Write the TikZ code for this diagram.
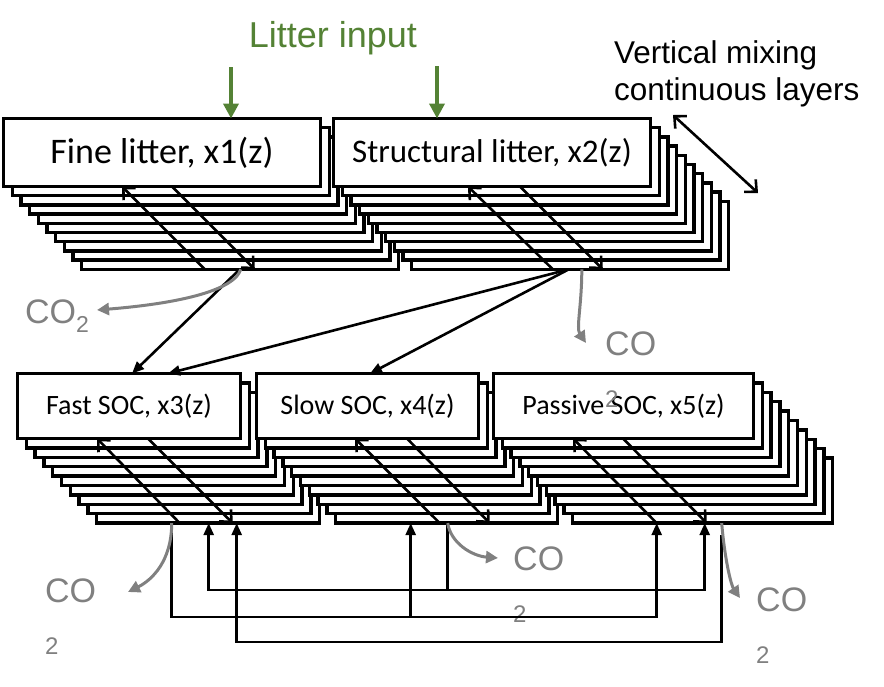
\documentclass[tikz,border=0pt]{standalone}
\usepackage{fontspec}
\setmainfont{Carlito}
\newfontfamily\arialfont{Liberation Sans}
\usetikzlibrary{arrows.meta, positioning, backgrounds, calc}
\definecolor{litgreen}{RGB}{84,130,53}

\begin{document}
\begin{tikzpicture}[
    x=1pt, y=-1pt,
    poolbox/.style={rectangle, draw=black, line width=3.3pt, fill=white, outer sep=0pt,
                    inner sep=0pt, minimum height=68pt, text centered},
    layer/.style={draw=black, line width=3.3pt, fill=white},
    mix/.style={-{Straight Barb[length=9pt,width=17pt]}, line width=2.6pt},
    flow/.style={-{Triangle[length=12pt,width=10pt]}, line width=2.6pt},
    resp/.style={-{Triangle[length=12pt,width=12pt]}, line width=3pt, draw=gray},
    colab/.style={font=\arialfont\fontsize{34}{52}\selectfont, text=gray, align=left,
                  inner sep=0pt, anchor=north west},
    inarr/.style={-{Triangle[length=15pt,width=15pt]}, line width=4pt, draw=litgreen}
]
\useasboundingbox (0,0) rectangle (884,686);

%% ===== LITTER POOLS (top row) =====
\node[poolbox, minimum width=317pt, font=\fontsize{36}{40}\selectfont] (fine) at (162,152.5) {Fine litter, x1(z)};
\node[poolbox, minimum width=317pt, font=\fontsize{33}{38}\selectfont, right=13pt of fine] (struc) {Structural litter, x2(z)};

%% ===== SOC POOLS (bottom row) =====
\node[poolbox, minimum width=223pt, minimum height=65pt, font=\fontsize{28}{32}\selectfont] (fast) at (129,406) {Fast SOC, x3(z)};
\node[poolbox, minimum width=222pt, minimum height=65pt, font=\fontsize{28}{32}\selectfont, right=16pt of fast] (slow) {Slow SOC, x4(z)};
\node[poolbox, minimum width=260pt, minimum height=65pt, font=\fontsize{28}{32}\selectfont, right=15pt of slow] (passive) {Passive SOC, x5(z)};

%% ===== STACKED LAYERS BEHIND EACH POOL =====
\begin{scope}[on background layer]
  \foreach \n/\dx/\dy in {fine/8.7/9.2, struc/8.7/9.2, fast/8.8/9.4, slow/8.8/9.4, passive/8.8/9.4} {
    \foreach \i in {9,...,1}
      \draw[layer] ($(\n.north west)+(\i*\dx,\i*\dy)$) rectangle ($(\n.south east)+(\i*\dx,\i*\dy)$);
    \coordinate (\n-back) at ($(\n.south west)+(9*\dx,9*\dy)$);
  }
\end{scope}

%% ===== LABELS =====
\node[font=\arialfont\fontsize{36}{40}\selectfont, text=litgreen, anchor=base] (litlab) at (333,47) {Litter input};
\node[font=\arialfont\fontsize{31.5}{37}\selectfont, align=left, anchor=north west, inner sep=0pt] (vmix) at (614,40) {Vertical mixing\\continuous layers};
\node[font=\arialfont\fontsize{34}{40}\selectfont, text=gray, anchor=base west, inner sep=0pt] (co-fine) at (25,323) {CO{\fontsize{23}{23}\selectfont\raisebox{-9pt}{2}}};
\node[colab] (co-struc)   at (605,332) {CO\\{\fontsize{24}{52}\selectfont 2}};
\node[colab] (co-fast)    at (45,579)  {CO\\{\fontsize{24}{52}\selectfont 2}};
\node[colab] (co-slow)    at (513,547) {CO\\{\fontsize{24}{52}\selectfont 2}};
\node[colab] (co-passive) at (756,588) {CO\\{\fontsize{24}{52}\selectfont 2}};

%% ===== LITTER INPUT =====
\coordinate (in-fine)  at (231,67);
\coordinate (in-struc) at (437,66);
\draw[inarr] (in-fine)  -- (in-fine |- fine.north);
\draw[inarr] (in-struc) -- (in-struc |- struc.north);

%% ===== VERTICAL MIXING =====
\coordinate (vm-top) at (673,115);
\coordinate (vm-bot) at (758,193);
\draw[mix, {Straight Barb[length=9pt,width=17pt]}-{Straight Barb[length=9pt,width=17pt]}] (vm-top) -- (vm-bot);

\draw[mix] ([xshift=123pt]fine-back)   -- ([xshift=118.5pt]fine.south west);
\draw[mix] ([xshift=168.5pt]fine.south west) -- ([xshift=173pt]fine-back);
\draw[mix] ([xshift=141pt]struc-back)  -- ([xshift=134.5pt]struc.south west);
\draw[mix] ([xshift=186.5pt]struc.south west) -- ([xshift=191pt]struc-back);
\draw[mix] ([xshift=83pt]fast-back)    -- ([xshift=79.5pt]fast.south west);
\draw[mix] ([xshift=130.5pt]fast.south west) -- ([xshift=136pt]fast-back);
\draw[mix] ([xshift=104pt]slow-back)   -- ([xshift=98.5pt]slow.south west);
\draw[mix] ([xshift=150.5pt]slow.south west) -- ([xshift=154pt]slow-back);
\draw[mix] ([xshift=84pt]passive-back) -- ([xshift=79.5pt]passive.south west);
\draw[mix] ([xshift=129.5pt]passive.south west) -- ([xshift=134pt]passive-back);

%% ===== LITTER TO SOC =====
\coordinate (fine-out)  at ([xshift=158pt]fine-back);
\coordinate (struc-out) at ([xshift=157pt]struc-back);
\draw[flow] (fine-out)  -- ([xshift=114.5pt]fast.north west);
\draw[flow] (struc-out) -- ([xshift=150.5pt]fast.north west);
\draw[flow] (struc-out) -- ([xshift=113.5pt]slow.north west);

%% ===== SOC EXCHANGES =====
\coordinate (fast-out)    at ([xshift=75pt]fast-back);
\coordinate (slow-out)    at ([xshift=112pt]slow-back);
\coordinate (passive-out) at ([xshift=149pt,yshift=-12pt]passive-back);
\coordinate (fast-in1)    at ([xshift=112pt]fast-back);
\coordinate (fast-in2)    at ([xshift=140pt]fast-back);
\coordinate (slow-in)     at ([xshift=75pt]slow-back);
\coordinate (passive-in1) at ([xshift=84pt]passive-back);
\coordinate (passive-in2) at ([xshift=132pt]passive-back);

\draw[flow] (fast-out) -- ++(0,94) coordinate (line-a) -| (passive-in1);
\draw[flow] (slow-in |- line-a) -- (slow-in);
\draw[flow] (slow-out) -- ++(0,67) coordinate (line-b) -| (fast-in1);
\draw[flow] (line-b) -| (passive-in2);
\draw[flow] (passive-out) -- ++(0,107) -| (fast-in2);

%% ===== RESPIRATION =====
\coordinate (co-fine-tip)    at (97,310);
\coordinate (co-struc-tip)   at (586,343);
\coordinate (co-fast-tip)    at (128,592);
\coordinate (co-slow-tip)    at (498,558);
\coordinate (co-passive-tip) at (740,598);
\draw[resp] ([xshift=1pt]fine-out) .. controls +(-8,25) and +(63,-5) .. (co-fine-tip);
\draw[resp] ([xshift=13pt]struc-out) .. controls +(0,36) and +(-10,-15) .. (co-struc-tip);
\draw[resp] (fast-out) .. controls +(0,38) and +(24,-12) .. (co-fast-tip);
\draw[resp] (slow-out) .. controls +(3,20) and +(-26,-2) .. (co-slow-tip);
\draw[resp] ([yshift=12pt]passive-out) .. controls +(3,36) and +(-9,-13) .. (co-passive-tip);

\end{tikzpicture}
\end{document}
